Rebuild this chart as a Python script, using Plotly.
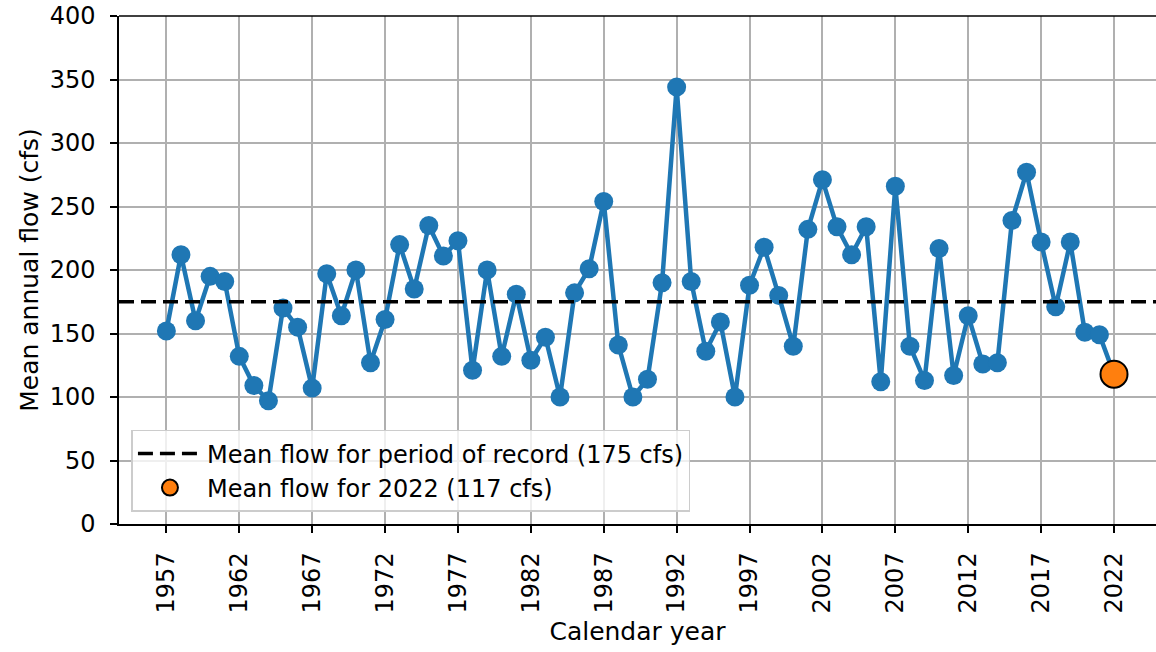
import plotly.graph_objects as go

years = list(range(1957, 2023))
flow = [152, 212, 160, 195, 191, 132, 109, 97, 170, 155, 107, 197, 164, 200,
        127, 161, 220, 185, 235, 211, 223, 121, 200, 132, 181, 129, 147, 100,
        182, 201, 254, 141, 100, 114, 190, 344, 191, 136, 159, 100, 188, 218,
        180, 140, 232, 271, 234, 212, 234, 112, 266, 140, 113, 217, 117, 164,
        126, 127, 239, 277, 222, 171, 222, 151, 149, 118]
mean_flow = 175
year_2022 = 2022
flow_2022 = 118
xticks = list(range(1957, 2023, 5))
x_range = [1953.75, 2024.88]
y_ticks = list(range(0, 401, 50))

FONT = "DejaVu Sans"

fig = go.Figure()
fig.add_trace(go.Scatter(
    x=years, y=flow, mode="lines+markers",
    line=dict(color="#1f77b4", width=4.5),
    marker=dict(color="#1f77b4", size=19),
    showlegend=False, hoverinfo="x+y"))
fig.add_trace(go.Scatter(
    x=[x_range[0], x_range[1] + 5], y=[mean_flow, mean_flow], mode="lines",
    line=dict(color="black", width=3.5, dash="15px,7px"),
    name="Mean flow for period of record (175 cfs)"))
fig.add_trace(go.Scatter(
    x=[year_2022], y=[flow_2022], mode="markers",
    marker=dict(color="#ff7f0e", size=27, line=dict(color="black", width=2)),
    name="Mean flow for 2022 (117 cfs)"))

fig.update_layout(
    width=1156, height=652,
    margin=dict(l=119, r=0, t=16, b=128),
    paper_bgcolor="white", plot_bgcolor="white",
    font=dict(family=FONT, size=24, color="black"),
    legend=dict(x=0.012, y=0.024, xanchor="left", yanchor="bottom",
                bgcolor="rgba(255,255,255,0.8)", bordercolor="#cccccc",
                borderwidth=1.5, font=dict(size=24), itemwidth=64),
    xaxis=dict(range=x_range, tickvals=xticks, tickangle=-90,
               showgrid=True, gridcolor="#b0b0b0", gridwidth=1.5,
               showline=True, linecolor="black", linewidth=1.5,
               ticks="outside", ticklen=7, tickwidth=1.5, tickcolor="black",
               zeroline=False, automargin=False, ticklabelstandoff=10,
               ticklabeloverflow="allow",
               tickfont=dict(size=24),
               title=dict(text="Calendar year", standoff=10, font=dict(size=25))),
    yaxis=dict(range=[0, 400], tickvals=y_ticks,
               showgrid=True, gridcolor="#b0b0b0", gridwidth=1.5,
               showline=True, linecolor="black", linewidth=1.5,
               ticks="outside", ticklen=7, tickwidth=1.5, tickcolor="black",
               zeroline=False, automargin=False, ticklabelstandoff=10,
               ticklabeloverflow="allow",
               tickfont=dict(size=24),
               title=dict(text="Mean annual flow (cfs)", standoff=4, font=dict(size=25))),
    shapes=[dict(type="line", xref="paper", yref="paper", x0=0, x1=1, y0=1, y1=1,
                 line=dict(color="black", width=1.5))],
)
# remove the browser's default 8px page margin so the figure fills the window
fig.write_html("out.html",
               config={"displayModeBar": False},
               post_script="document.body.style.margin='0';document.body.style.overflow='hidden';")
